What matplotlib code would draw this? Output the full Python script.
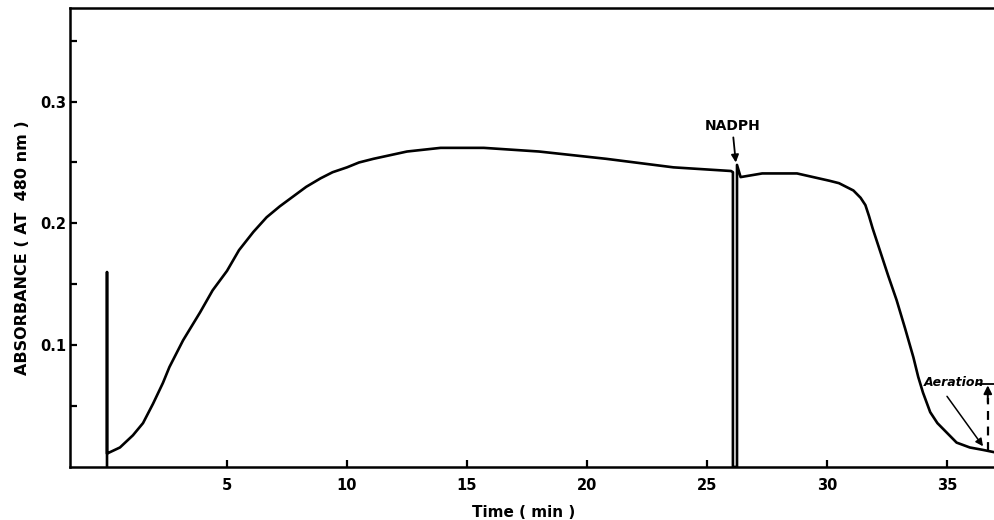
"""
Absorbance trace at 480 nm over time, with NADPH addition and aeration marks
"""

import matplotlib
matplotlib.use('Agg')
import matplotlib.pyplot as plt

matplotlib.rcParams['font.family'] = ['DejaVu Sans']

# Trace (time in min, absorbance)
time_min = [0.0, 0.0, 0.0, 0.54, 1.08, 1.5, 1.92, 2.33, 2.6, 3.17, 3.88, 4.4, 5.0,
            5.5, 6.1, 6.65, 7.2, 7.75, 8.3, 8.9, 9.4, 10.0, 10.5, 11.1, 12.5, 13.9,
            15.7, 18.0, 20.8, 23.6, 26.0, 26.08, 26.08, 26.25, 26.25, 26.4, 27.3,
            28.75, 30.1, 30.5, 31.1, 31.4, 31.6, 31.75, 31.9, 32.2, 32.55, 32.9,
            33.25, 33.6, 33.8, 34.0, 34.3, 34.6, 35.0, 35.4, 35.95, 36.5, 37.0]
absorbance = [0.0, 0.160, 0.011, 0.016, 0.026, 0.036, 0.052, 0.069, 0.082, 0.104,
              0.127, 0.145, 0.161, 0.178, 0.193, 0.205, 0.214, 0.222, 0.230, 0.237,
              0.242, 0.246, 0.250, 0.253, 0.259, 0.262, 0.262, 0.259, 0.253, 0.246,
              0.243, 0.242, 0.0, 0.0, 0.248, 0.238, 0.241, 0.241, 0.235, 0.233,
              0.227, 0.221, 0.215, 0.206, 0.196, 0.178, 0.157, 0.137, 0.114, 0.090,
              0.074, 0.061, 0.045, 0.036, 0.028, 0.020, 0.016, 0.014, 0.012]

x_ticks = [5, 10, 15, 20, 25, 30, 35]
y_major = [0.1, 0.2, 0.3]
y_minor = [0.05, 0.15, 0.25, 0.35]

# NADPH and aeration marks
nadph_time = 26.2
nadph_level = 0.250
aeration_level = 0.069
aeration_base = 0.013

fig = plt.figure(figsize=(9.95, 5.2), dpi=100)
ax = fig.add_axes([0.0704, 0.102, 0.9296, 0.883])

ax.plot(time_min, absorbance, color='black', linewidth=1.9,
        solid_joinstyle='round', solid_capstyle='butt')

ax.set_xlim(-1.54, 37.0)
ax.set_ylim(0, 0.377)

ax.set_xticks(x_ticks)
ax.set_xticklabels([str(t) for t in x_ticks], fontsize=10.5, fontweight='bold')
ax.set_yticks(y_major)
ax.set_yticklabels([f'{v:.1f}' for v in y_major], fontsize=10.5, fontweight='bold')
ax.set_yticks(y_minor, minor=True)

ax.tick_params(axis='both', which='both', direction='in', length=5, width=1.6,
               color='black')
ax.tick_params(axis='x', pad=8)
ax.tick_params(axis='y', pad=3)

for side in ['left', 'bottom', 'top']:
    ax.spines[side].set_linewidth(1.8)
ax.spines['right'].set_visible(False)

ax.set_ylabel('ABSORBANCE ( AT  480 nm )', fontsize=11.5, fontweight='bold')
ax.yaxis.set_label_coords(-0.043, 0.477)
ax.set_xlabel('Time ( min )', fontsize=11, fontweight='bold')
ax.xaxis.set_label_coords(0.49, -0.082)

# NADPH arrow
ax.annotate('NADPH', xy=(nadph_time, nadph_level), xytext=(nadph_time - 0.15, 0.274),
            ha='center', va='bottom', fontsize=10, fontweight='bold',
            arrowprops=dict(arrowstyle='-|>', color='black', lw=1.3,
                            mutation_scale=11, shrinkA=1, shrinkB=0))

# Aeration marks
ax.text(34.05, aeration_level, 'Aeration', ha='left', va='center',
        fontsize=9, fontweight='bold', style='italic')
ax.plot([36.3, 37.0], [aeration_level - 0.001, aeration_level - 0.001],
        color='black', linewidth=1.3)
ax.plot([36.7, 36.7], [aeration_base, aeration_level - 0.012], color='black',
        linewidth=1.6, linestyle=(0, (4, 3)))
ax.annotate('', xy=(36.7, aeration_level - 0.002), xytext=(36.7, aeration_level - 0.016),
            arrowprops=dict(arrowstyle='-|>', color='black', lw=1.4,
                            mutation_scale=12, shrinkA=0, shrinkB=0))
ax.annotate('', xy=(36.5, aeration_base + 0.004), xytext=(35.0, aeration_level - 0.011),
            arrowprops=dict(arrowstyle='-|>', color='black', lw=1.1,
                            mutation_scale=11, shrinkA=0, shrinkB=0))

plt.savefig('out.png', dpi=100, facecolor='white')
plt.close()
